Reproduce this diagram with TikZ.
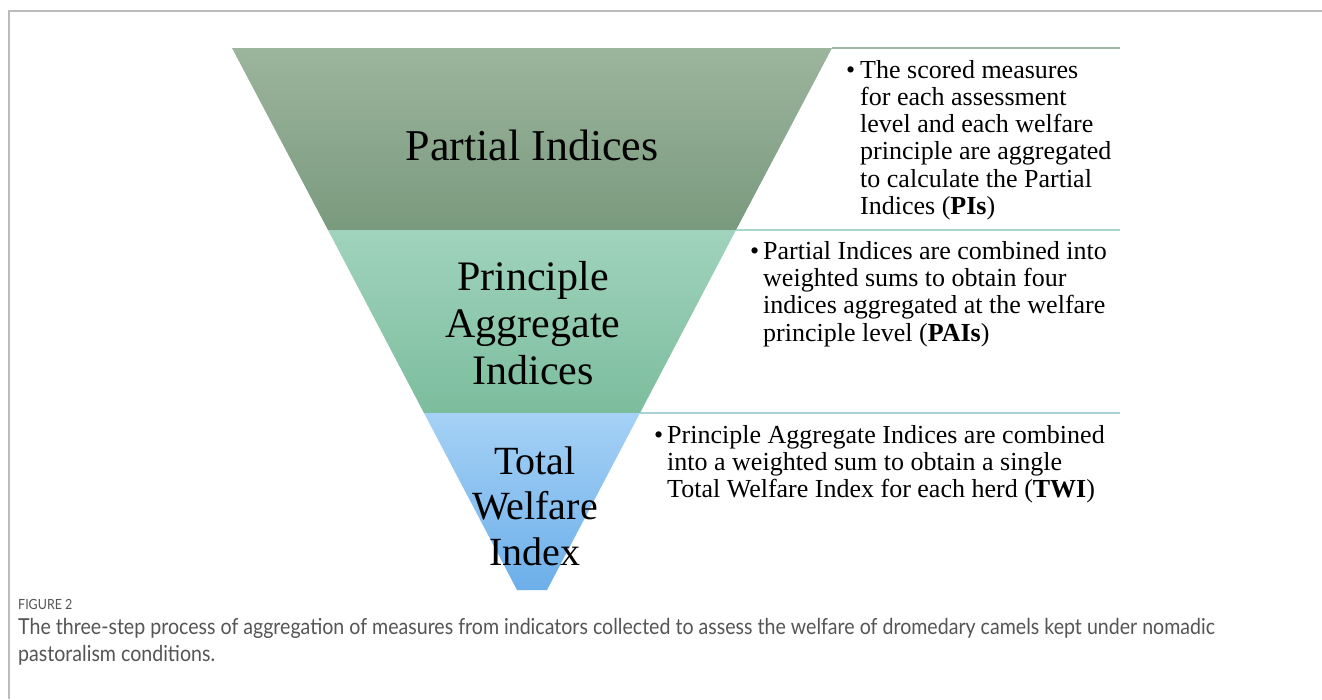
\documentclass[tikz,border=0pt]{standalone}
\usepackage{fontspec}
\setmainfont{Liberation Serif}
\newfontfamily\capfont[FakeStretch=0.89]{Lato}
\definecolor{framegray}{HTML}{BBBBBB}
\definecolor{pitop}{HTML}{9CB59D}
\definecolor{pibot}{HTML}{7A9A7E}
\definecolor{paitop}{HTML}{A0D3BD}
\definecolor{paibot}{HTML}{7CBD9D}
\definecolor{twitop}{HTML}{A5D1F5}
\definecolor{twibot}{HTML}{6DAFEA}
\definecolor{lineA}{HTML}{9FB8A5}
\definecolor{lineB}{HTML}{A8D6CC}
\definecolor{lineC}{HTML}{A8D2D8}
\definecolor{capgray}{HTML}{555555}
\begin{document}
\begin{tikzpicture}[x=1pt,y=-1pt,
  sepline/.style={line width=1.8pt},
  big/.style={font=\fontsize{44}{46}\selectfont, inner sep=0pt, align=center, anchor=base},
  mid/.style={font=\fontsize{42}{47}\selectfont, inner sep=0pt, align=center, anchor=base},
  small/.style={font=\fontsize{40}{45.5}\selectfont, inner sep=0pt, align=center, anchor=base},
  desc/.style={font=\fontsize{26}{27.3}\selectfont, inner sep=0pt, align=left, anchor=base west},
  bul/.style={font=\fontsize{26}{27.3}\selectfont, inner sep=0pt, anchor=base west},
  captext/.style={font=\capfont\fontsize{22}{27}\selectfont, text=capgray, inner sep=0pt, align=left, anchor=base west},
]
\useasboundingbox (0,0) rectangle (1322,699);
\fill[white] (0,0) rectangle (1322,699);
% frame
\draw[framegray, line width=2pt] (8.5,699) -- (8.5,11) -- (1322,11);

% funnel bands
\shade[top color=pitop, bottom color=pibot] (232,48) -- (832,48) -- (736,230) -- (328,230) -- cycle;
\shade[top color=paitop, bottom color=paibot] (328,230) -- (736,230) -- (640,413) -- (424,413) -- cycle;
\shade[top color=twitop, bottom color=twibot] (424,413) -- (640,413) -- (547,590) -- (517,590) -- cycle;

% separator lines
\draw[sepline, lineA] (832,48) -- (1120,48);
\draw[sepline, lineB] (736,230) -- (1120,230);
\draw[sepline, lineC] (640,413) -- (1120,413);

% funnel labels (anchored at the baseline of the last line)
\node[big] (pi) at (532,160) {Partial Indices};
\node[mid] (pai) at (533,384) {Principle\\Aggregate\\Indices};
\node[small] (twi) at (535,565) {Total\\Welfare\\Index};

% descriptions
\node[bul] (b1) at (846,78) {•};
\node[desc] (d1) at (860,214.5) {The scored measures\\for each assessment\\level and each welfare\\principle are aggregated\\to calculate the Partial\\Indices (\textbf{PIs})};
\node[bul] (b2) at (750,259) {•};
\node[desc] (d2) at (763,341) {Partial Indices are combined into\\weighted sums to obtain four\\indices aggregated at the welfare\\principle level (\textbf{PAIs})};
\node[bul] (b3) at (654,443) {•};
\node[desc] (d3) at (667,497.6) {Principle Aggregate Indices are combined\\into a weighted sum to obtain a single\\Total Welfare Index for each herd (\textbf{TWI})};

% caption
\node[captext, font=\capfont\fontsize{14}{16}\selectfont] (fig) at (18,609) {FIGURE 2};
\node[captext] (cap) at (18,661) {The three-step process of aggregation of measures from indicators collected to assess the welfare of dromedary camels kept under nomadic\\pastoralism conditions.};
\end{tikzpicture}
\end{document}
